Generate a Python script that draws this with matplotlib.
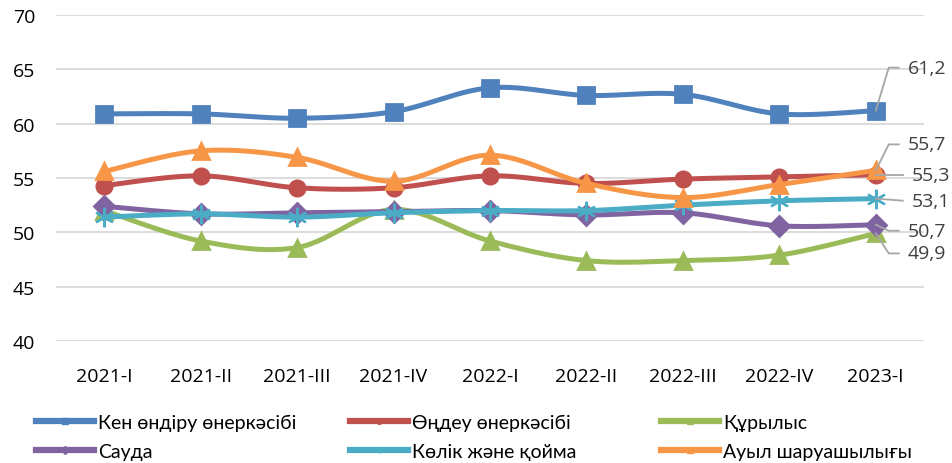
import numpy as np
import matplotlib
matplotlib.use("Agg")
import matplotlib.pyplot as plt
from matplotlib.lines import Line2D
from matplotlib.transforms import IdentityTransform

quarters = ["2021-I", "2021-II", "2021-III", "2021-IV", "2022-I",
            "2022-II", "2022-III", "2022-IV", "2023-I"]

ken = [60.9, 60.9, 60.5, 61.1, 63.3, 62.6, 62.7, 60.9, 61.2]
ondeu = [54.3, 55.2, 54.1, 54.1, 55.2, 54.5, 54.9, 55.1, 55.3]
kurylys = [52.0, 49.2, 48.6, 52.1, 49.2, 47.4, 47.4, 47.9, 49.9]
sauda = [52.4, 51.7, 51.8, 51.9, 52.0, 51.6, 51.8, 50.6, 50.7]
kolik = [51.4, 51.7, 51.4, 51.8, 52.0, 52.0, 52.5, 52.9, 53.1]
auyl = [55.6, 57.5, 56.9, 54.7, 57.1, 54.5, 53.2, 54.4, 55.7]

names = ["Кен өндіру өнеркәсібі", "Өңдеу өнеркәсібі", "Құрылыс",
         "Сауда", "Көлік және қойма", "Ауыл шаруашылығы"]
series = [ken, ondeu, kurylys, sauda, kolik, auyl]
colors = ["#4F81BD", "#C0504D", "#9BBB59", "#8064A2", "#4BACC6", "#F79646"]
markers = ["s", "o", "^", "D", (6, 2, 0), "^"]
msizes = [11, 11, 12, 10, 14, 12]
mews = [2, 2, 2, 2, 1.6, 2]


def smooth(x, y, n=30):
    # Excel-like smoothed line: Catmull-Rom segments as cubic Bezier
    x = np.asarray(x, float)
    y = np.asarray(y, float)
    pts = np.column_stack([x, y])
    out = []
    for i in range(len(pts) - 1):
        p0 = pts[i - 1] if i > 0 else pts[i]
        p1 = pts[i]
        p2 = pts[i + 1]
        p3 = pts[i + 2] if i + 2 < len(pts) else pts[i + 1]
        c1 = p1 + (p2 - p0) / 6
        c2 = p2 - (p3 - p1) / 6
        t = np.linspace(0, 1, n)[:, None]
        seg = ((1 - t) ** 3) * p1 + 3 * ((1 - t) ** 2) * t * c1 + 3 * (1 - t) * t ** 2 * c2 + t ** 3 * p2
        out.append(seg if i == 0 else seg[1:])
    out = np.vstack(out)
    return out[:, 0], out[:, 1]


fig = plt.figure(figsize=(9.53, 4.64), dpi=100)
ax = fig.add_axes([56 / 953, 1 - 342 / 464, 868 / 953, 326 / 464])

xs = np.arange(len(quarters))
for vals, c, m, ms, mw in zip(series, colors, markers, msizes, mews):
    sx, sy = smooth(xs, vals)
    ax.plot(sx, sy, color=c, lw=3.6, solid_capstyle="round")
    ax.plot(xs, vals, ls="none", marker=m, ms=ms, color=c, mec=c, mew=mw)

ax.set_xlim(-0.5, len(quarters) - 0.5)
ax.set_ylim(40, 70)
ax.set_yticks(range(40, 71, 5))
ax.set_xticks(xs)
ax.set_xticklabels(quarters)
ax.grid(axis="y", color="#D9D9D9", lw=1.3)
ax.set_axisbelow(True)
for s in ax.spines.values():
    s.set_visible(False)
ax.tick_params(length=0, labelsize=14, colors="black")
ax.tick_params(axis="x", pad=19)
ax.tick_params(axis="y", pad=15)
for lab in ax.get_xticklabels() + ax.get_yticklabels():
    lab.set_family("Open Sans")

# data labels for the last quarter with leader lines (offsets in pixels, y up)
label_layout = {
    0: [(13, 43), (23, 43)],
    5: [(13, 26), (23, 26)],
    1: [(27, 0)],
    4: [(27, -2)],
    3: [(13, -6), (23, -6)],
    2: [(13, -20), (23, -20)],
}
fig.canvas.draw()
last = len(quarters) - 1
for idx, pts in label_layout.items():
    v = series[idx][last]
    px, py = ax.transData.transform((last, v))
    lx = [px] + [px + dx for dx, dy in pts]
    ly = [py] + [py + dy for dx, dy in pts]
    fig.add_artist(Line2D(lx, ly, color="#A6A6A6", lw=1.3, transform=IdentityTransform()))
    fig.text((lx[-1] + 9) / 953, ly[-1] / 464, f"{v:.1f}".replace(".", ","),
             ha="left", va="center", fontsize=14, color="#404040", family="Open Sans")

# legend: three equal-width columns, two rows each (row-major order as in Excel)
handles = [Line2D([], [], color=c, lw=4.5, marker=m, ms=4, mew=1) for c, m in zip(colors, markers)]
col_x = [36, 350, 661]
for col in range(3):
    idx = [col, col + 3]
    fig.legend([handles[i] for i in idx], [names[i] for i in idx], ncol=1,
               loc="center left", bbox_to_anchor=(col_x[col] / 953, 1 - 438 / 464),
               frameon=False, handlelength=3.0, handletextpad=0.2,
               labelspacing=0.62, borderpad=0, borderaxespad=0,
               prop={"family": "Lato", "size": 14})

fig.savefig("out.png", dpi=100)
